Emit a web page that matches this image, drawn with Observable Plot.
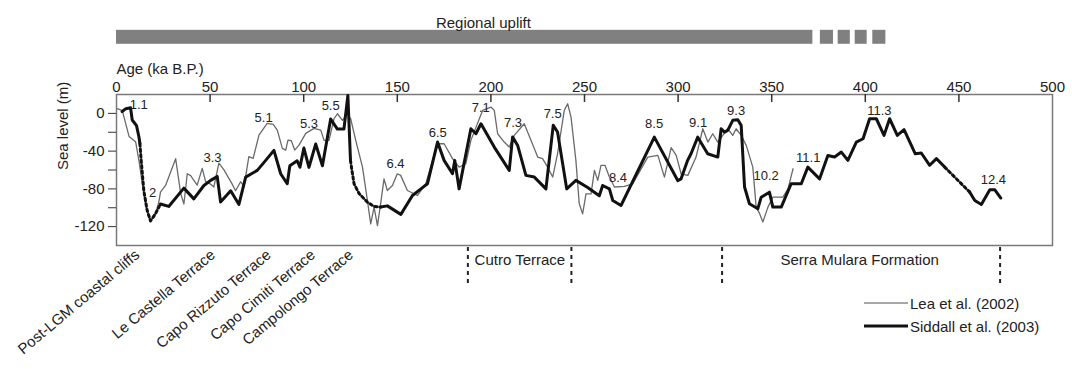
<!DOCTYPE html>
<html><head><meta charset="utf-8">
<script src="https://cdn.jsdelivr.net/npm/d3@7"></script>
<script src="https://cdn.jsdelivr.net/npm/@observablehq/plot@0.6"></script>
<style>
body{margin:0;background:#fff;}
#wrap{position:relative;width:1072px;height:369px;font-family:"Liberation Sans",Arial,Helvetica,sans-serif;color:#222;}
.leg{position:absolute;left:864px;font-size:15px;display:flex;align-items:center;white-space:nowrap;}
.leg svg{margin-right:2px;}
</style></head><body><div id="wrap"></div>
<script>
// ---- data ----
const xTicks = [0, 50, 100, 150, 200, 250, 300, 350, 400, 450, 500];
const yTicks = [0, -20, -40, -60, -80, -100, -120];

// Lea et al. (2002)
const leaAge = [0.4,3.1,6.7,10.2,12,13.8,15.5,17.8,20.3,22.6,23.5,26.2,31.6,34.3,36,37.8,39.6,43.1,45.8,47.6,50.3,52,54.7,57.4,61.8,63.6,66.3,68.1,70.7,73,76.1,80.5,83.7,85.9,88.6,90.4,91.6,93.4,95.2,97.5,101.1,105.5,109.1,110.9,113.5,116.2,118,120.7,123.4,125.1,127.8,131.4,134,135.8,137.6,139.4,141.1,142.9,144.7,147.4,150,151.8,155.4,160.8,165.2,171.5,175,179.5,183,186.6,189.3,195.6,200,201.8,203.6,207.1,209.8,212.5,217.8,221.4,225,227.6,230.3,233,235.6,239.2,241,242.8,245.4,247.2,249,250.8,253.5,255.3,257.1,258.8,261,263.3,266,271.3,275.8,283.8,289.2,292.7,296.3,299,301.6,305.2,309.6,313.2,315.9,318.5,321.2,326.5,329.2,331,333.7,336.4,339.9,341.7,343.5,345.3,348,350.6,356,358.7,361.4];
const leaLevel = [5,3,-24.4,-30,-50,-75,-96,-113.5,-110,-94,-83.5,-76.4,-48,-85,-96,-64,-66,-76,-58.3,-72.4,-75,-78,-52.7,-59.8,-75,-82,-72.4,-77.7,-45.9,-47.7,-23,-10.6,-11.7,-17.7,-37.1,-38.9,-28.3,-29,-38.9,-33.6,-21.2,-15.9,-17.7,-28.6,-28.6,-5.7,-0.4,-7.4,-0.4,-5.7,-28.6,-57,-92,-117,-99.3,-119,-95.8,-69.4,-81.7,-76.4,-64,-65.7,-81.7,-87,-74.6,-32.2,-32.2,-48,-57,-53.4,-28.6,3.2,6.7,3.2,-21.6,-30.4,-35.7,-23.3,-11,-28.6,-46.3,-48,-57,-67.5,-42.8,3.2,10.2,-3.9,-49.8,-95.8,-106.5,-85.3,-85.3,-60.4,-71,-55.2,-55.2,-67.5,-78,-77.4,-74.6,-46.3,-44.5,-67.5,-36.4,-44.5,-64,-65.7,-46.3,-16.3,-30.4,-21.6,-30.4,-16.3,-23.3,-16.3,-23.3,-33.9,-56.9,-99.3,-106,-115,-99.3,-88.8,-88.8,-80,-58.7];

// Siddall et al. (2003)
const siddallAge = [3,5,7.5,8.4,10.7,12,12.5,13.2,14.6,16.4,18.2,20.9,23.5,27.9,36,41.3,46.7,50.3,53.8,55.6,61,65.4,69,75.2,79.7,84.1,87.7,91.2,92.6,96.5,98,100.1,102.8,106.4,110,114.4,118,121.5,123.6,125,125.5,126.9,129.6,134,137.6,141.1,144.7,151.9,158.1,162.6,166.1,171.5,175,179.5,180.7,183,189.3,192,194.7,201.8,209.8,211.6,214.3,218.7,223.2,229.4,233.3,235.6,240.5,245.4,251.7,257.9,259.7,263.3,265.1,269.5,287.3,299.8,301.6,305.1,306.9,310.5,315.8,321.2,323,324.8,326.5,329.2,331.9,333.7,335.5,338.1,342.6,344.4,348.8,350.6,355.1,360.4,365.8,369.3,375.6,380,383.6,387.2,390.7,395.2,398.8,402.3,405.9,410,413,417.1,420.7,426.7,429.9,434.4,438,442.4,455.8,458.5,462,466.5,469.2,472.4];
const siddallLevel = [2,5,6,-7,-13,-25,-32,-50,-82,-103,-114,-106,-96,-98.6,-79.2,-90.6,-76.4,-71,-66.8,-94,-82,-96.5,-67.5,-60.4,-49.8,-39.2,-64,-74.6,-55.5,-50.2,-57,-36.7,-57.2,-32.5,-55.5,-6,-16.6,-16.6,19,-50,-57,-74.6,-85,-94,-98.6,-99.3,-98,-107,-87,-80,-74.6,-30.4,-49.8,-64,-49.8,-80,-16.3,-21.6,-11,-35.7,-60.4,-25,-34,-65.7,-67.5,-80,-12.7,-19.8,-80,-71,-78.5,-87.3,-76.4,-80,-92.3,-97.6,-25.2,-71.2,-69.4,-49.8,-42.8,-25.2,-42.8,-46.3,-16.3,-19.8,-18,-7.4,-6.7,-12.7,-78,-95.8,-101,-88.8,-83.5,-99.3,-99.3,-74.6,-74.6,-57,-69.4,-44.6,-46.3,-41,-49.8,-30.4,-26.9,-5.7,-5.7,-23.3,-5.7,-23.3,-17.3,-42.8,-42,-55,-48,-56.9,-83.5,-92.3,-96.5,-81,-81,-89.7];
const siddallDotted = [[12.5, 23.5], [125, 141.1], [442.4, 455.8]];

// Marine isotope stage labels
const stageNames = ["1.1","2","3.3","5.1","5.3","5.5","6.4","6.5","7.1","7.3","7.5","8.4","8.5","9.1","9.3","10.2","11.1","11.3","12.4"];
const stageAge   = [11.9,19.3,51.3,78.6,102.8,114.4,149,171.6,194.6,211.8,233,267.9,287.2,310.7,331,347,369.5,407.5,468.4];
const stageLevel = [9.2,-84,-46.7,-4.2,-11,8.5,-53,-21,6.4,-9.5,0,-68,-10.6,-9.5,3.2,-65.7,-46.7,3.2,-70];

// Terraces (rotated labels)
const terraceNames = ["Post-LGM coastal cliffs","Le Castella Terrace","Capo Rizzuto Terrace","Capo Cimiti Terrace","Campolongo Terrace"];
const terraceAge = [12.8, 53.2, 83, 106.7, 127];

// Formation boundaries and labels
const boundaryAge = [187.7, 243, 323.5, 472];
const formationNames = ["Cutro Terrace", "Serra Mulara Formation"];
const formationAge = [215.5, 397];

// Regional uplift bar
const upliftStart = [0, 376, 385.5, 394.6, 404];
const upliftEnd   = [372, 383, 392, 401, 411];

// ---- build tables ----
const lea = leaAge.map((a, i) => ({age: a, level: leaLevel[i]}));
function segments(ages, levels, dotted) {
  const isDot = (a, b) => dotted.some(([lo, hi]) => a >= lo && b <= hi);
  const segs = []; let cur = null;
  for (let i = 0; i < ages.length - 1; i++) {
    const style = isDot(ages[i], ages[i + 1]) ? "dotted" : "solid";
    if (!cur || cur.style !== style) { cur = {style, pts: [[ages[i], levels[i]]]}; segs.push(cur); }
    cur.pts.push([ages[i + 1], levels[i + 1]]);
  }
  return segs.flatMap((s, k) => s.pts.map(([age, level]) => ({age, level, seg: k, style: s.style})));
}
const sid = segments(siddallAge, siddallLevel, siddallDotted);
const stages = stageNames.map((n, i) => ({name: n, age: stageAge[i], level: stageLevel[i]}));
const terraces = terraceNames.map((n, i) => ({name: n, age: terraceAge[i]}));
const formations = formationNames.map((n, i) => ({name: n, age: formationAge[i]}));
const uplift = upliftStart.map((s, i) => ({start: s, end: upliftEnd[i]}));

const ink = "#222";
const chart = Plot.plot({
  width: 1072, height: 369,
  marginLeft: 116, marginRight: 20, marginTop: 94, marginBottom: 124,
  x: {domain: [0, 500], label: null},
  y: {domain: [-140, 20], label: null},
  style: {fontFamily: '"Liberation Sans", Arial, Helvetica, sans-serif', fontSize: "15px", color: ink, overflow: "visible", background: "#fff"},
  marks: [
    Plot.rect(uplift, {x1: "start", x2: "end", y1: 73.2, y2: 88, fill: "#808080"}),
    Plot.text(["Regional uplift"], {x: () => 196, frameAnchor: "top", dy: -77, text: d => d, fontSize: 15, fill: ink}),
    Plot.text(["Age (ka B.P.)"], {frameAnchor: "top-left", dy: -31, text: d => d, textAnchor: "start", fontSize: 15, fill: ink}),
    Plot.frame({stroke: "#7a7a7a", strokeWidth: 1.5}),
    Plot.axisX({anchor: "top", ticks: xTicks, tickSize: 0, tickPadding: 3, label: null, fontSize: 15, fill: ink}),
    Plot.ruleX(xTicks.filter(t => t > 0 && t < 500), {x: d => d, y1: 20, y2: 11.5, stroke: "#333", strokeWidth: 1.5}),
    Plot.axisY({ticks: yTicks, tickSize: 8, tickPadding: 4, tickFormat: d => (d % 40 === 0 ? String(d) : ""), label: null, fontSize: 15, stroke: "#333", fill: ink}),
    Plot.text(["Sea level (m)"], {frameAnchor: "left", dx: -53, rotate: -90, text: d => d, fontSize: 15, fill: ink}),
    Plot.line(lea, {x: "age", y: "level", stroke: "#6a6a6a", strokeWidth: 1.3}),
    Plot.line(sid.filter(d => d.style === "solid"), {x: "age", y: "level", z: "seg", stroke: "#111", strokeWidth: 3, strokeLinejoin: "round"}),
    Plot.line(sid.filter(d => d.style === "dotted"), {x: "age", y: "level", z: "seg", stroke: "#111", strokeWidth: 3, strokeDasharray: "2.5,3"}),
    Plot.text(stages, {x: "age", y: "level", text: "name", fontSize: 13, fill: ink}),
    Plot.text(terraces, {x: "age", text: "name", frameAnchor: "bottom", dy: 11, rotate: -40, textAnchor: "end", fontSize: 15, fill: ink}),
    Plot.ruleX(boundaryAge, {x: d => d, y1: -142, y2: -181, stroke: "#222", strokeWidth: 2, strokeDasharray: "4,4"}),
    Plot.text(formations, {x: "age", text: "name", frameAnchor: "bottom", dy: 19, fontSize: 15, fill: ink})
  ]
});
const wrap = document.getElementById("wrap");
wrap.appendChild(chart);

// legend
const legendItems = [
  {name: "Lea et al. (2002)", color: "#8a8a8a", width: 1.5, top: 294},
  {name: "Siddall et al. (2003)", color: "#111", width: 3, top: 317}
];
for (const it of legendItems) {
  const row = document.createElement("div");
  row.className = "leg";
  row.style.top = it.top + "px";
  row.innerHTML = `<svg width="44" height="18"><line x1="0" x2="44" y1="9" y2="9" stroke="${it.color}" stroke-width="${it.width}"/></svg><span>${it.name}</span>`;
  wrap.appendChild(row);
}
</script></body></html>
